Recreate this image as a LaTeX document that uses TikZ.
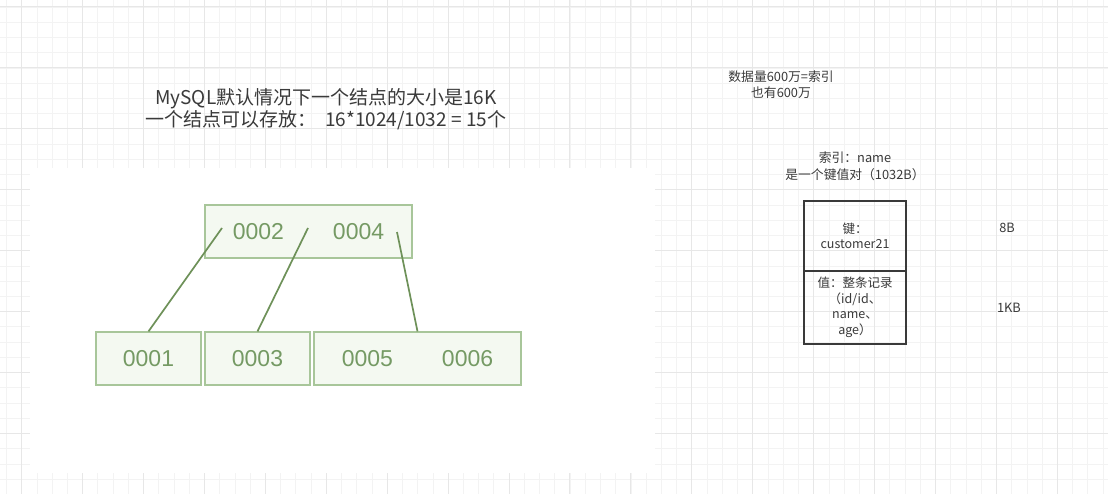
\documentclass[tikz,border=0pt]{standalone}
\usepackage{fontspec}
\setmainfont{Noto Sans CJK SC}
\newfontfamily\treefont{Liberation Sans}
\usetikzlibrary{positioning}

\definecolor{gridminor}{HTML}{F3F3F3}
\definecolor{gridmajor}{HTML}{E7E7E7}
\definecolor{treeline}{HTML}{6E9159}
\definecolor{treeborder}{HTML}{A8C69A}
\definecolor{treefill}{HTML}{F4F9F1}
\definecolor{treetext}{HTML}{759A64}
\definecolor{inktext}{HTML}{3A3A3A}

\begin{document}
\begin{tikzpicture}[x=1pt, y=-1pt,
    treebox/.style={draw=treeborder, line width=1.2pt, fill=treefill, text=treetext,
        minimum height=53pt, inner sep=0pt, font=\treefont\fontsize{23}{26}\selectfont},
    ptr/.style={draw=treeline, line width=1.7pt},
    recbox/.style={draw=inktext, line width=1.8pt, minimum width=102pt, inner sep=0pt,
        align=center, text=inktext, font=\fontsize{12.5}{15.5}\selectfont},
    note/.style={align=center, text=inktext, font=\fontsize{12.8}{16.5}\selectfont}]
    \useasboundingbox (0,0) rectangle (1108,494);
    \fill[white] (0,0) rectangle (1108,494);

    % Background grid
    \foreach \k in {0,...,72}
        \draw[gridminor, line width=0.8pt] ({6.5+15.23*\k},0) -- ({6.5+15.23*\k},494);
    \foreach \k in {0,...,31}
        \draw[gridminor, line width=0.8pt] (0,{7+15.23*\k}) -- (1108,{7+15.23*\k});
    \foreach \k in {0,...,17}
        \draw[gridmajor, line width=1pt] ({21.7+60.92*\k},0) -- ({21.7+60.92*\k},494);
    \foreach \k in {0,...,7}
        \draw[gridmajor, line width=1pt] (0,{7+60.92*\k}) -- (1108,{7+60.92*\k});

    % Title
    \node[align=center, text=inktext, font=\fontsize{19}{22}\selectfont] (title) at (326,109)
        {MySQL默认情况下一个结点的大小是16K\\一个结点可以存放：\ \ 16*1024/1032 = 15个};

    % B-tree picture
    \begin{scope}
        \fill[white] (30,168) rectangle (655,473);
        \node[treebox, minimum width=207pt] (root) at (308.5,231.5) {0002\hspace{49pt}0004};
        \node[treebox, minimum width=105pt] (leafa) at (148.5,358.5) {0001};
        \node[treebox, minimum width=105pt] (leafb) at (257.5,358.5) {0003};
        \node[treebox, minimum width=207pt] (leafc) at (417.5,358.5) {0005\hspace{49pt}0006};
        \coordinate (pa) at (222,228);
        \coordinate (pb) at (308,228);
        \coordinate (pc) at (397,232);
        \draw[ptr] (pa) -- (leafa.north);
        \draw[ptr] (pb) -- (leafb.north);
        \draw[ptr] (pc) -- (leafc.north);
    \end{scope}

    % Index entry
    \node[note] (count) at (781,84.5) {数据量600万=索引\\也有600万};
    \node[note] (index) at (855,166) {索引：name\\是一个键值对（1032B）};
    \node[recbox, minimum height=70pt] (keycell) at (855,236) {键：\\customer21};
    \node[recbox, minimum height=73pt, below=-1.8pt of keycell] (valcell)
        {值：整条记录\\（id/id、\\name、\\age）};
    \node[note] (keysize) at (1007,228) {8B};
    \node[note] (valsize) at (1009,308) {1KB};
\end{tikzpicture}
\end{document}
